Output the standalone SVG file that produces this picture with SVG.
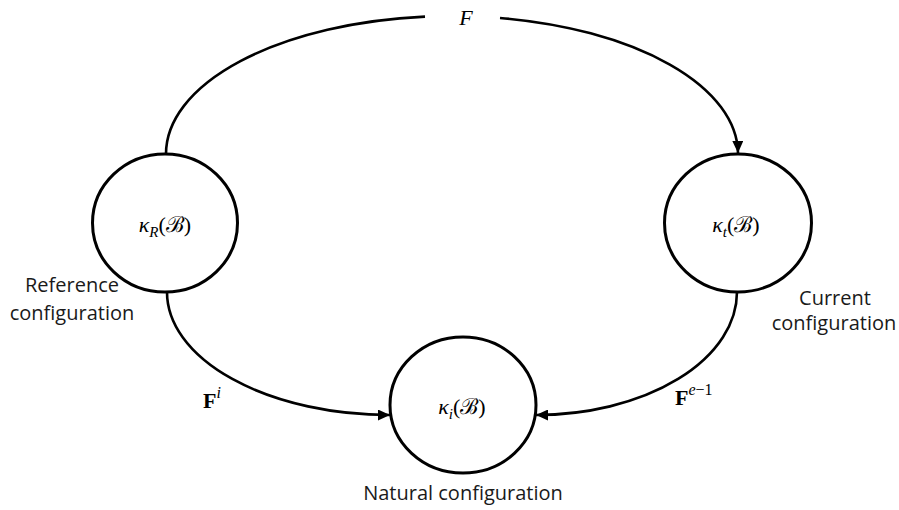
<svg xmlns="http://www.w3.org/2000/svg" width="899" height="510" viewBox="0 0 899 510">
  <style>
    .node { fill: #ffffff; stroke: #000000; stroke-width: 3; }
    .conn { fill: none; stroke: #000000; stroke-width: 2.6; }
    .math { font-family: "Liberation Serif", "DejaVu Serif", serif; font-size: 22px; fill: #000; }
    .lbl { font-family: "Open Sans", "Liberation Sans", sans-serif; font-size: 20px; fill: #1a1a1a; text-anchor: middle; }
  </style>
  <defs>
    <marker id="arrow" markerUnits="userSpaceOnUse" markerWidth="13" markerHeight="11" refX="12" refY="5.5" orient="auto">
      <path d="M0,0 L12,5.5 L0,11 z" fill="#000000"/>
    </marker>
  </defs>
  <rect width="899" height="510" fill="#ffffff"/>

  <g id="connectors">
    <path class="conn" d="M166,154 A286,138 0 0 1 425,16.6"/>
    <path class="conn" d="M500,18 A286,138 0 0 1 738,153" marker-end="url(#arrow)"/>
    <path class="conn" d="M167,292 A223,123 0 0 0 390,415" marker-end="url(#arrow)"/>
    <path class="conn" d="M737,292 A201,123 0 0 1 536,415" marker-end="url(#arrow)"/>
    <text class="math" x="466" y="25" text-anchor="middle" font-style="italic">F</text>
    <text class="math" x="203" y="408" font-weight="bold" font-size="23">F<tspan font-size="16" font-weight="normal" font-style="italic" dy="-10">i</tspan></text>
    <text class="math" x="675" y="405" font-weight="bold" font-size="23">F<tspan font-size="16" font-weight="normal" dy="-10"><tspan font-style="italic">e</tspan>−1</tspan></text>
  </g>

  <g id="node-reference">
    <ellipse class="node" cx="165" cy="223" rx="72.5" ry="69"/>
    <text class="math" x="165" y="232" text-anchor="middle"><tspan font-style="italic">κ</tspan><tspan font-style="italic" font-size="15" dy="5">R</tspan><tspan dy="-5">(ℬ)</tspan></text>
    <text class="lbl" x="72" y="292">Reference</text>
    <text class="lbl" x="72" y="320">configuration</text>
  </g>

  <g id="node-current">
    <ellipse class="node" cx="738" cy="223" rx="73.5" ry="69"/>
    <text class="math" x="736" y="232" text-anchor="middle"><tspan font-style="italic">κ</tspan><tspan font-style="italic" font-size="15" dy="5">t</tspan><tspan dy="-5">(ℬ)</tspan></text>
    <text class="lbl" x="835" y="305">Current</text>
    <text class="lbl" x="834" y="330">configuration</text>
  </g>

  <g id="node-natural">
    <ellipse class="node" cx="463" cy="405" rx="73" ry="68"/>
    <text class="math" x="462" y="414" text-anchor="middle"><tspan font-style="italic">κ</tspan><tspan font-style="italic" font-size="15" dy="5">i</tspan><tspan dy="-5">(ℬ)</tspan></text>
    <text class="lbl" x="463" y="500">Natural configuration</text>
  </g>
</svg>
